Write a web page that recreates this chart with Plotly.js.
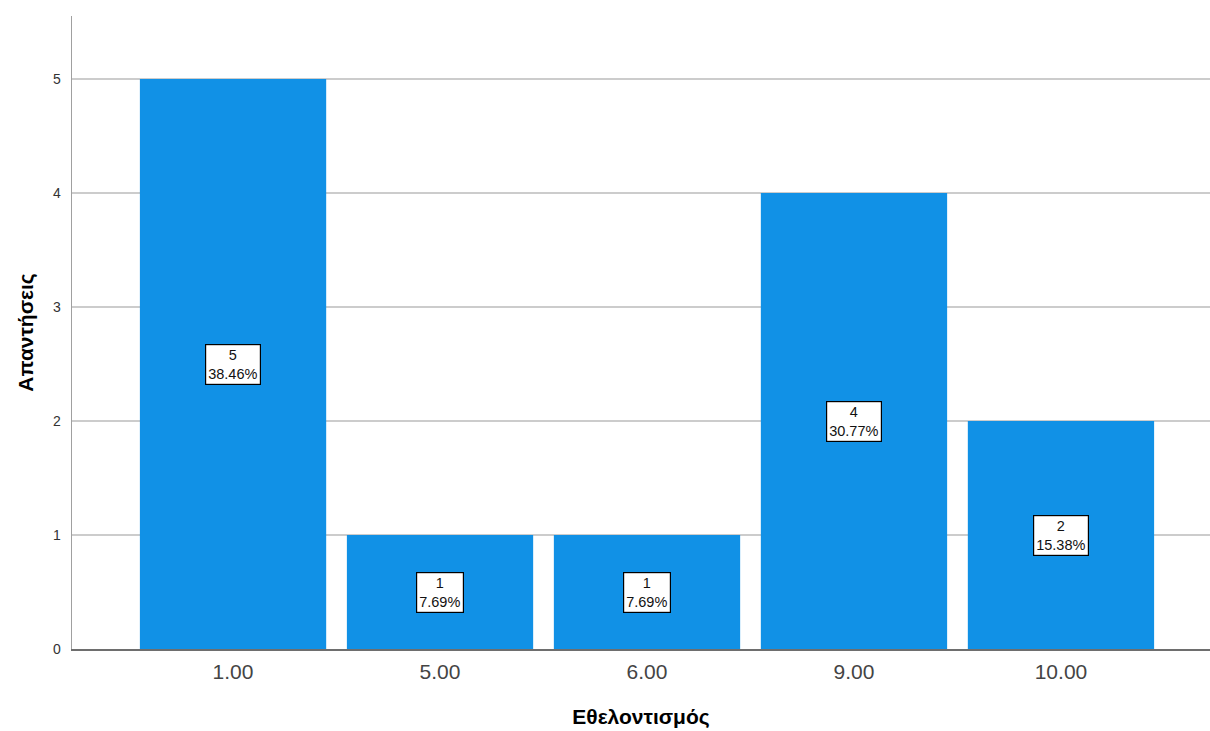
<!DOCTYPE html>
<html>
<head>
<meta charset="utf-8">
<script src="https://cdn.plot.ly/plotly-3.0.1.min.js"></script>
<style>html,body{margin:0;padding:0;background:#fff;}#chart{width:1210px;height:731px;}</style>
</head>
<body>
<div id="chart"></div>
<script>
const categories = ["1.00", "5.00", "6.00", "9.00", "10.00"];
const counts = [5, 1, 1, 4, 2];
const percents = ["38.46%", "7.69%", "7.69%", "30.77%", "15.38%"];
const yTicks = [0, 1, 2, 3, 4, 5];

const font = "Liberation Sans, Arial, sans-serif";

const trace = {
  type: "bar",
  x: categories,
  y: counts,
  marker: {color: "#1191E6", line: {width: 0}},
  hoverinfo: "skip"
};

const annotations = categories.map((c, i) => ({
  x: i, y: counts[i] / 2, xref: "x", yref: "y",
  text: counts[i] + "<br>" + percents[i],
  showarrow: false,
  bgcolor: "#ffffff",
  bordercolor: "#000000",
  borderwidth: 1.2,
  borderpad: 2,
  font: {family: font, size: 14.5, color: "#111"},
  align: "center"
}));

const layout = {
  width: 1210, height: 731,
  margin: {l: 72, r: 0, t: 16, b: 82},
  paper_bgcolor: "#ffffff",
  plot_bgcolor: "#ffffff",
  bargap: 0.1,
  showlegend: false,
  xaxis: {
    type: "category",
    range: [-0.778, 4.72],
    showline: true, linecolor: "#6e6e6e", linewidth: 1.5,
    showgrid: false, zeroline: false,
    ticks: "", ticklabelstandoff: 3,
    tickfont: {family: font, size: 21, color: "#444"},
    title: {text: "Εθελοντισμός", font: {family: font, size: 21, color: "#000", weight: "bold"}, standoff: 27}
  },
  yaxis: {
    range: [0, 5.553],
    tickvals: yTicks,
    showline: true, linecolor: "#a0a0a0", linewidth: 1.5,
    showgrid: true, gridcolor: "#cccccc", gridwidth: 1.5,
    zeroline: false,
    ticks: "", ticklabelstandoff: 7,
    tickfont: {family: font, size: 14, color: "#333"},
    title: {text: "Απαντήσεις", font: {family: font, size: 21, color: "#000", weight: "bold"}, standoff: 13}
  },
  annotations: annotations
};

Plotly.newPlot("chart", [trace], layout, {staticPlot: true, displayModeBar: false});
</script>
</body>
</html>
